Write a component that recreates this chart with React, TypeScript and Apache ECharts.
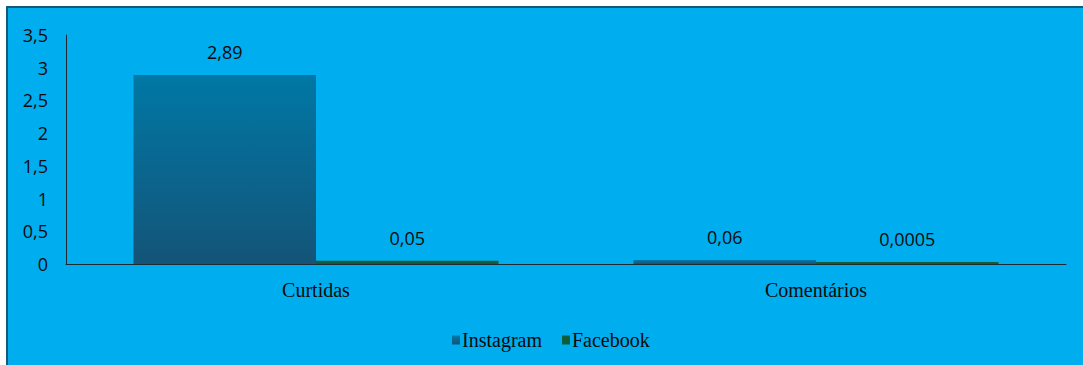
import React, { useEffect, useRef } from "react";
import * as echarts from "echarts";

const categories = ["Curtidas", "Comentários"];
const instagramValues = [2.89, 0.06];
const facebookValues = [0.05, 0.0005];
const seriesNames = ["Instagram", "Facebook"];
const yTicks = { min: 0, max: 3.5, interval: 0.5 };

const fmt = (v: number) => String(v).replace(".", ",");

export default function App() {
  const ref = useRef<HTMLDivElement>(null);
  useEffect(() => {
    if (!ref.current) return;
    const chart = echarts.init(ref.current, undefined, { renderer: "svg" });
    const serif = "'Liberation Serif', serif";
    const sans = "'Open Sans', sans-serif";
    chart.setOption({
      animation: false,
      backgroundColor: "#ffffff",
      graphic: [
        {
          type: "rect",
          z: -10,
          silent: true,
          shape: { x: 7, y: 7, width: 1100, height: 400 },
          style: { fill: "#00AEEF", stroke: "#185a75", lineWidth: 2 },
        },
      ],
      grid: { left: 66, right: 17, top: 35, bottom: 101 },
      legend: {
        left: 447,
        top: 325,
        itemWidth: 8,
        itemHeight: 9,
        itemGap: 20,
        icon: "rect",
        textStyle: { fontFamily: serif, fontSize: 20, color: "#0a0a0a", padding: [0, 0, 0, -3] },
        data: seriesNames,
      },
      xAxis: {
        type: "category",
        data: categories,
        axisLine: { lineStyle: { color: "#1e2a30", width: 1 } },
        axisTick: { show: false },
        axisLabel: { fontFamily: serif, fontSize: 20, color: "#0a0a0a", margin: 16 },
      },
      yAxis: {
        type: "value",
        min: yTicks.min,
        max: yTicks.max,
        interval: yTicks.interval,
        axisLine: { show: true, lineStyle: { color: "#1e2a30", width: 1 } },
        axisTick: { show: false },
        splitLine: { show: false },
        axisLabel: {
          fontFamily: sans,
          fontSize: 18,
          color: "#0a0a0a",
          margin: 18,
          formatter: (v: number) => fmt(v),
        },
      },
      series: [
        {
          name: seriesNames[0],
          type: "bar",
          data: instagramValues,
          barGap: "0%",
          barCategoryGap: "27%",
          itemStyle: {
            color: new echarts.graphic.LinearGradient(0, 0, 0, 1, [
              { offset: 0, color: "#0078A5" },
              { offset: 1, color: "#145478" },
            ]),
          },
          label: {
            show: true,
            position: "top",
            distance: 14,
            fontFamily: sans,
            fontSize: 18,
            color: "#0a0a0a",
            formatter: (p: any) => fmt(p.value),
          },
        },
        {
          name: seriesNames[1],
          type: "bar",
          data: facebookValues,
          barGap: "0%",
          barCategoryGap: "27%",
          barMinHeight: 2,
          itemStyle: { color: "#0B5E3C" },
          label: {
            show: true,
            position: "top",
            distance: 14,
            fontFamily: sans,
            fontSize: 18,
            color: "#0a0a0a",
            formatter: (p: any) => fmt(p.value),
          },
        },
      ],
    });
    return () => chart.dispose();
  }, []);
  return (
    <div
      ref={ref}
      style={{ position: "fixed", left: 0, top: 0, width: 1083, height: 365 }}
    />
  );
}
